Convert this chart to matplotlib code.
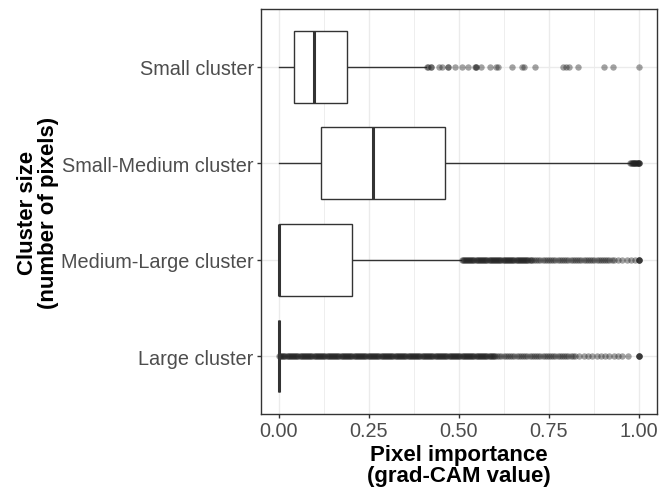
import matplotlib
matplotlib.use("Agg")
import matplotlib.pyplot as plt

plt.rcParams['font.family'] = ['Liberation Sans', 'DejaVu Sans']

# ---- data ----
categories = ["Large cluster", "Medium-Large cluster", "Small-Medium cluster", "Small cluster"]
whisker_low = [0.0, 0.0, 0.0, 0.0]
q1 = [0.0, 0.0, 0.116, 0.043]
median = [0.0, 0.0, 0.260, 0.098]
q3 = [0.0, 0.204, 0.461, 0.190]
whisker_high = [0.0, 0.506, 0.977, 0.407]

small_outliers = [0.412, 0.415, 0.421, 0.421, 0.444, 0.452, 0.469, 0.469, 0.489, 0.509,
                  0.526, 0.544, 0.546, 0.548, 0.560, 0.586, 0.602, 0.608, 0.646, 0.676,
                  0.681, 0.711, 0.789, 0.796, 0.806, 0.831, 0.903, 0.929, 1.000]

small_medium_outliers = [0.976, 0.978, 0.980, 0.982, 0.984, 0.986, 0.988, 0.990, 0.992,
                         0.994, 0.996, 0.998, 1.000, 1.000, 1.000]

medium_large_outliers = [
    0.507, 0.510, 0.513, 0.516, 0.519, 0.522, 0.525, 0.528, 0.531, 0.534,
    0.537, 0.540, 0.543, 0.546, 0.549, 0.552, 0.555, 0.558, 0.561, 0.564,
    0.567, 0.570, 0.573, 0.576, 0.579, 0.582, 0.585, 0.588, 0.591, 0.594,
    0.597, 0.600, 0.603, 0.606, 0.609, 0.612, 0.615, 0.618, 0.621, 0.624,
    0.627, 0.630, 0.633, 0.636, 0.639, 0.642, 0.645, 0.648, 0.651, 0.654,
    0.657, 0.660, 0.663, 0.666, 0.669, 0.672, 0.675, 0.678, 0.681, 0.684,
    0.687, 0.690, 0.693, 0.696, 0.699, 0.702,
    0.708, 0.714, 0.720, 0.726, 0.732, 0.738, 0.744, 0.750, 0.756, 0.762,
    0.768, 0.774, 0.780, 0.786, 0.792, 0.798, 0.804, 0.810, 0.816, 0.822,
    0.828, 0.834, 0.840, 0.846, 0.852, 0.858, 0.864, 0.870, 0.876, 0.882,
    0.888, 0.894, 0.900, 0.906, 0.912, 0.918, 0.924, 0.930,
    0.942, 0.954, 0.966, 0.978, 0.988, 1.000, 1.000, 1.000, 1.000]

large_outliers = [
    0.000, 0.003, 0.006, 0.009, 0.012, 0.015, 0.018, 0.021, 0.024, 0.027,
    0.030, 0.033, 0.036, 0.039, 0.042, 0.045, 0.048, 0.051, 0.054, 0.057,
    0.060, 0.063, 0.066, 0.069, 0.072, 0.075, 0.078, 0.081, 0.084, 0.087,
    0.090, 0.093, 0.096, 0.099, 0.102, 0.105, 0.108, 0.111, 0.114, 0.117,
    0.120, 0.123, 0.126, 0.129, 0.132, 0.135, 0.138, 0.141, 0.144, 0.147,
    0.150, 0.153, 0.156, 0.159, 0.162, 0.165, 0.168, 0.171, 0.174, 0.177,
    0.180, 0.183, 0.186, 0.189, 0.192, 0.195, 0.198, 0.201, 0.204, 0.207,
    0.210, 0.213, 0.216, 0.219, 0.222, 0.225, 0.228, 0.231, 0.234, 0.237,
    0.240, 0.243, 0.246, 0.249, 0.252, 0.255, 0.258, 0.261, 0.264, 0.267,
    0.270, 0.273, 0.276, 0.279, 0.282, 0.285, 0.288, 0.291, 0.294, 0.297,
    0.300, 0.303, 0.306, 0.309, 0.312, 0.315, 0.318, 0.321, 0.324, 0.327,
    0.330, 0.333, 0.336, 0.339, 0.342, 0.345, 0.348, 0.351, 0.354, 0.357,
    0.360, 0.363, 0.366, 0.369, 0.372, 0.375, 0.378, 0.381, 0.384, 0.387,
    0.390, 0.393, 0.396, 0.399, 0.402, 0.405, 0.408, 0.411, 0.414, 0.417,
    0.420, 0.423, 0.426, 0.429, 0.432, 0.435, 0.438, 0.441, 0.444, 0.447,
    0.450, 0.453, 0.456, 0.459, 0.462, 0.465, 0.468, 0.471, 0.474, 0.477,
    0.480, 0.483, 0.486, 0.489, 0.492, 0.495, 0.498, 0.501, 0.504, 0.507,
    0.510, 0.513, 0.516, 0.519, 0.522, 0.525, 0.528, 0.531, 0.534, 0.537,
    0.540, 0.543, 0.546, 0.549, 0.552, 0.555, 0.558, 0.561, 0.564, 0.567,
    0.570, 0.573, 0.576, 0.579, 0.582, 0.585, 0.588, 0.591, 0.594, 0.597,
    0.600,
    0.606, 0.612, 0.618, 0.624, 0.630, 0.636, 0.642, 0.648, 0.654, 0.660,
    0.666, 0.672, 0.678, 0.684, 0.690, 0.696, 0.702, 0.708, 0.714, 0.720,
    0.726, 0.732, 0.738, 0.744, 0.750, 0.756, 0.762, 0.768, 0.774, 0.780,
    0.786, 0.792, 0.798, 0.804, 0.810, 0.816, 0.822,
    0.834, 0.846, 0.858, 0.870, 0.882, 0.894, 0.906, 0.918, 0.930, 0.942,
    0.954, 0.969, 1.000, 1.000, 1.000, 1.000]

outliers = [large_outliers, medium_large_outliers, small_medium_outliers, small_outliers]

x_ticks = [0.0, 0.25, 0.50, 0.75, 1.0]
x_tick_labels = ["0.00", "0.25", "0.50", "0.75", "1.00"]
x_minor = [0.125, 0.375, 0.625, 0.875]

x_title = "Pixel importance\n(grad-CAM value)"
y_title = "Cluster size\n(number of pixels)"

# ---- figure ----
W, H = 664, 489
fig = plt.figure(figsize=(W / 100, H / 100), dpi=100)
left, right, top, bottom = 261, 657, 10, 415
ax = fig.add_axes([left / W, 1 - bottom / H, (right - left) / W, (bottom - top) / H])

positions = list(range(1, len(categories) + 1))
stats = []
for i, name in enumerate(categories):
    stats.append(dict(label=name, whislo=whisker_low[i], q1=q1[i], med=median[i],
                      q3=q3[i], whishi=whisker_high[i], fliers=outliers[i]))

dark = "#333333"
ax.bxp(stats, positions=positions, widths=0.75, orientation='horizontal',
       showcaps=False, patch_artist=True,
       boxprops=dict(facecolor="white", edgecolor=dark, linewidth=1.0, zorder=3),
       medianprops=dict(color=dark, linewidth=2.2, solid_capstyle='butt', zorder=4),
       whiskerprops=dict(color=dark, linewidth=1.0, zorder=2),
       flierprops=dict(marker='o', markerfacecolor="#222222", markeredgecolor='none',
                       markersize=4.6, alpha=0.42, linestyle='none', zorder=2.5))

ax.set_xlim(-0.05, 1.05)
ax.set_ylim(0.4, len(categories) + 0.6)
ax.set_xticks(x_ticks)
ax.set_xticklabels(x_tick_labels)
ax.set_xticks(x_minor, minor=True)
ax.set_yticks(positions)
ax.set_yticklabels(categories)

ax.set_axisbelow(True)
ax.grid(which='major', axis='both', color='#ebebeb', linewidth=1.0, zorder=0)
ax.grid(which='minor', axis='x', color='#ebebeb', linewidth=0.6, zorder=0)
ax.tick_params(axis='both', which='major', length=2.75, width=1.0, color=dark,
               labelcolor='#4d4d4d', labelsize=14.3, pad=2.5)
ax.tick_params(axis='both', which='minor', length=0)
for s in ax.spines.values():
    s.set_color(dark)
    s.set_linewidth(1.0)

fig.text(459 / W, 1 - 466 / H, x_title, ha='center', va='center', fontsize=16,
         fontweight='bold', color='black', linespacing=1.0)
fig.text(38 / W, 1 - 213 / H, y_title, ha='center', va='center', fontsize=16,
         fontweight='bold', color='black', rotation=90, linespacing=1.0)

fig.savefig("out.png", dpi=100)
